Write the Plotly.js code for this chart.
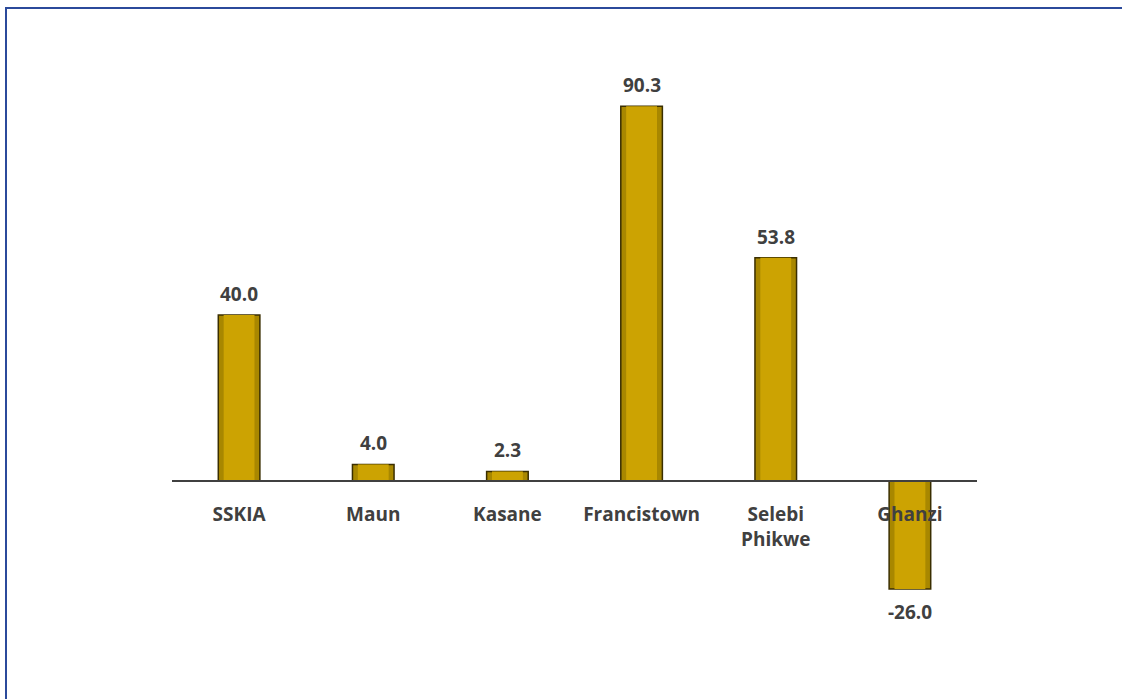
<!DOCTYPE html>
<html>
<head>
<meta charset="utf-8">
<script src="https://cdn.plot.ly/plotly-3.0.1.min.js"></script>
<style>
  html, body { margin: 0; padding: 0; background: #fff; }
  #wrap { position: relative; width: 1122px; height: 699px; overflow: hidden; }
  #chart { position: absolute; left: 0; top: 0; width: 1122px; height: 699px; }
  #frame { position: absolute; left: 5px; top: 7px; width: 1122px; height: 700px;
           border-top: 2px solid #2B4A9B; border-left: 2px solid #2B4A9B; pointer-events: none; }
</style>
</head>
<body>
<div id="wrap">
  <div id="chart"></div>
  <div id="frame"></div>
</div>
<script>
const categories = ["SSKIA", "Maun", "Kasane", "Francistown", "Selebi<br>Phikwe", "Ghanzi"];
const values = [40.0, 4.0, 2.3, 90.3, 53.8, -26.0];
const labels = ["40.0", "4.0", "2.3", "90.3", "53.8", "-26.0"];

const yMin = -40, yMax = 100;
const FONT = "Open Sans, Liberation Sans, sans-serif";

const outer = {
  type: "bar",
  x: categories,
  y: values,
  width: 0.31,
  marker: { color: "#A88700", line: { color: "#3A2E00", width: 1.5 } },
  hoverinfo: "skip"
};
const inner = {
  type: "bar",
  x: categories,
  y: values,
  width: 0.23,
  marker: { color: "#CCA302", line: { width: 0 } },
  hoverinfo: "skip"
};

const annotations = categories.map((c, i) => ({
  x: c, y: values[i], xref: "x", yref: "y",
  text: "<b>" + labels[i] + "</b>",
  showarrow: false,
  yanchor: values[i] >= 0 ? "bottom" : "top",
  yshift: values[i] >= 0 ? 6 : -8,
  font: { family: FONT, size: 19, color: "#404040" }
}));

const layout = {
  width: 1122, height: 699,
  margin: { l: 172, r: 145, t: 65.7, b: 51.9 },
  paper_bgcolor: "#ffffff",
  plot_bgcolor: "rgba(0,0,0,0)",
  showlegend: false,
  barmode: "overlay",
  font: { family: FONT },
  annotations: annotations,
  xaxis: {
    type: "category",
    anchor: "free",
    position: -yMin / (yMax - yMin),
    showline: true, linecolor: "#404040", linewidth: 2,
    ticks: "", showgrid: false, zeroline: false,
    ticklabelstandoff: 16,
    tickfont: { family: FONT, size: 19, color: "#404040", weight: "bold" }
  },
  yaxis: {
    range: [yMin, yMax],
    visible: false, showgrid: false, zeroline: false
  }
};

Plotly.newPlot("chart", [outer, inner], layout, { displayModeBar: false, staticPlot: true });
</script>
</body>
</html>
